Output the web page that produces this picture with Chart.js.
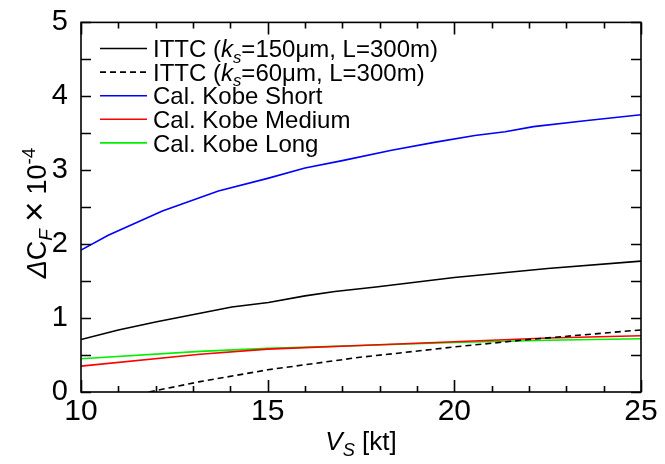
<!DOCTYPE html>
<html>
<head>
<meta charset="utf-8">
<script src="https://cdn.jsdelivr.net/npm/chart.js@4"></script>
<style>
  html, body { margin: 0; padding: 0; background: #fff; }
</style>
</head>
<body>
<canvas id="chart" width="665" height="464"></canvas>
<script>
// Ship speed Vs [kt] against roughness allowance ΔCF (x 1e-4)
const ittc150Speed = [10, 11, 12.03, 14.04, 15.02, 16, 16.8, 17.9, 20, 22.5, 25];
const ittc150Value = [0.71, 0.84, 0.95, 1.15, 1.21, 1.30, 1.36, 1.42, 1.55, 1.67, 1.77];
const ittc60Speed = [11.82, 13.19, 15, 17.47, 18.4, 20, 22, 25];
const ittc60Value = [0, 0.14, 0.30, 0.47, 0.52, 0.61, 0.71, 0.84];
const shortSpeed = [10, 10.73, 12.18, 13.68, 15, 16, 17, 18.32, 19.5, 20.55, 21.36, 22.12, 23.5, 25];
const shortValue = [1.92, 2.12, 2.45, 2.72, 2.89, 3.03, 3.13, 3.27, 3.38, 3.47, 3.52, 3.59, 3.67, 3.75];
const mediumSpeed = [10, 13.19, 15, 17.47, 20, 22.5, 25];
const mediumValue = [0.35, 0.51, 0.58, 0.63, 0.68, 0.73, 0.76];
const longSpeed = [10, 13.19, 15, 17.47, 20, 22.5, 25];
const longValue = [0.45, 0.55, 0.59, 0.63, 0.67, 0.70, 0.72];

const xTicks = [10, 15, 20, 25];
const yTicks = [0, 1, 2, 3, 4, 5];

// legend text, split into runs for italic / subscript parts
const legendRuns = [
  [{t: 'ITTC ('}, {t: 'k', it: true}, {t: 's', it: true, sub: true}, {t: '=150μm, L=300m)'}],
  [{t: 'ITTC ('}, {t: 'k', it: true}, {t: 's', it: true, sub: true}, {t: '=60μm, L=300m)'}],
  [{t: 'Cal. Kobe Short'}],
  [{t: 'Cal. Kobe Medium'}],
  [{t: 'Cal. Kobe Long'}]
];
const xTitleRuns = [{t: 'V', it: true}, {t: 'S', it: true, sub: true}, {t: ' [kt]'}];
const yTitleRuns = [{t: 'Δ', it: true}, {t: 'C'}, {t: 'F', it: true, sub: true}, {t: '\u2009×\u2009', k: 1.3}, {t: '10'}, {t: '-4', sup: true}];

const FONT = '"Liberation Sans", Arial, Helvetica, sans-serif';

const toPoints = (xs, ys) => xs.map((v, i) => ({x: v, y: ys[i]}));

const line = (label, xs, ys, color, dash) => ({
  label: label,
  data: toPoints(xs, ys),
  borderColor: color,
  borderWidth: 1.6,
  borderDash: dash || [],
  pointRadius: 0,
  tension: 0,
  fill: false
});

// draw a run list starting at (x, y) baseline, returns its width
const drawRuns = (ctx, runs, x, y, size, measureOnly) => {
  let cx = x;
  runs.forEach(r => {
    const s = ((r.sub || r.sup) ? size * 0.7 : size) * (r.k || 1);
    ctx.font = (r.it ? 'italic ' : '') + s + 'px ' + FONT;
    const dy = r.sub ? size * 0.24 : (r.sup ? -size * 0.42 : 0);
    if (!measureOnly) ctx.fillText(r.t, cx, y + dy);
    cx += ctx.measureText(r.t).width;
  });
  return cx - x;
};

const decor = {
  id: 'decor',
  afterDraw(chart) {
    const ctx = chart.ctx;
    const a = chart.chartArea;
    const x = chart.scales.x, y = chart.scales.y;
    ctx.save();

    // frame with inward ticks
    ctx.strokeStyle = '#000';
    ctx.lineWidth = 1.6;
    ctx.strokeRect(a.left, a.top, a.right - a.left, a.bottom - a.top);
    ctx.beginPath();
    for (let v = 10; v <= 25; v++) {
      const px = Math.round(x.getPixelForValue(v)) + 0.5;
      const len = v % 5 === 0 ? 12 : 6;
      ctx.moveTo(px, a.bottom); ctx.lineTo(px, a.bottom - len);
      ctx.moveTo(px, a.top); ctx.lineTo(px, a.top + len);
    }
    for (let v = 0; v <= 5; v += 0.5) {
      const py = Math.round(y.getPixelForValue(v)) + 0.5;
      ctx.moveTo(a.left, py); ctx.lineTo(a.left + 10, py);
      ctx.moveTo(a.right, py); ctx.lineTo(a.right - 10, py);
    }
    ctx.stroke();

    // legend
    ctx.fillStyle = '#000';
    ctx.textBaseline = 'alphabetic';
    ctx.textAlign = 'left';
    chart.data.datasets.forEach((ds, i) => {
      const ly = 48.5 + i * 23.6;
      ctx.beginPath();
      ctx.strokeStyle = ds.borderColor;
      ctx.lineWidth = 1.6;
      ctx.setLineDash(ds.borderDash);
      ctx.moveTo(100, ly);
      ctx.lineTo(147, ly);
      ctx.stroke();
      ctx.setLineDash([]);
      drawRuns(ctx, legendRuns[i], 153, ly + 8.6, 24);
    });

    // x axis title
    const xw = drawRuns(ctx, xTitleRuns, 0, 0, 26, true);
    drawRuns(ctx, xTitleRuns, 361 - xw / 2, 450, 26);

    // y axis title, rotated
    ctx.translate(46, 213);
    ctx.rotate(-Math.PI / 2);
    const yw = drawRuns(ctx, yTitleRuns, 0, 0, 27, true);
    drawRuns(ctx, yTitleRuns, -yw / 2, 0, 27);
    ctx.restore();
  }
};

new Chart(document.getElementById('chart'), {
  type: 'line',
  data: {
    datasets: [
      line('ITTC (ks=150μm, L=300m)', ittc150Speed, ittc150Value, '#000000'),
      line('ITTC (ks=60μm, L=300m)', ittc60Speed, ittc60Value, '#000000', [6, 4]),
      line('Cal. Kobe Short', shortSpeed, shortValue, '#0000ff'),
      line('Cal. Kobe Medium', mediumSpeed, mediumValue, '#ff0000'),
      line('Cal. Kobe Long', longSpeed, longValue, '#00f000')
    ]
  },
  options: {
    responsive: false,
    animation: false,
    devicePixelRatio: 1,
    layout: { padding: { top: 20, right: 24, left: 0, bottom: 0 } },
    plugins: { legend: { display: false }, tooltip: { enabled: false } },
    scales: {
      x: {
        type: 'linear',
        min: 10,
        max: 25,
        grid: { display: false },
        border: { display: false },
        afterBuildTicks: s => { s.ticks = xTicks.map(v => ({value: v})); },
        afterFit: s => { s.height = 72; },
        ticks: { color: '#000', padding: -6, maxRotation: 0, font: { family: FONT, size: 30 } }
      },
      y: {
        type: 'linear',
        min: 0,
        max: 5,
        grid: { display: false },
        border: { display: false },
        afterBuildTicks: s => { s.ticks = yTicks.map(v => ({value: v})); },
        afterFit: s => { s.width = 81; },
        ticks: { color: '#000', padding: 5, font: { family: FONT, size: 29 } }
      }
    }
  },
  plugins: [decor]
});
</script>
</body>
</html>
